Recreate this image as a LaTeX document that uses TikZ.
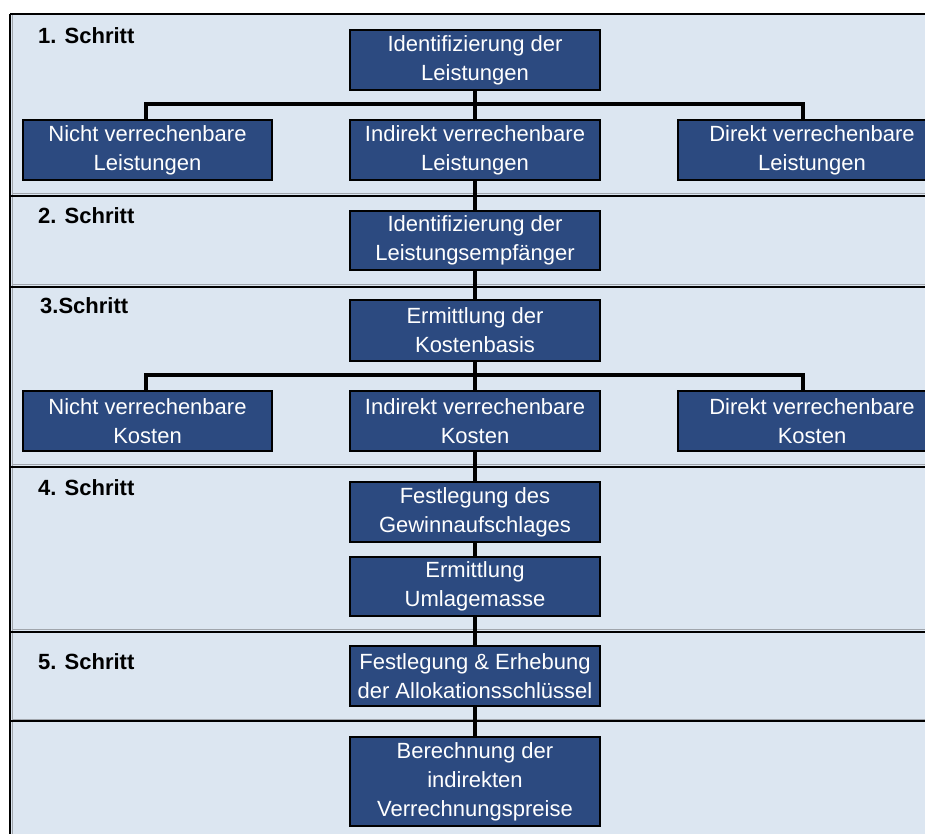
\documentclass[tikz,border=0pt]{standalone}
\usepackage{fontspec}
\setmainfont{Liberation Sans}
\definecolor{panelbg}{RGB}{220,230,241}
\definecolor{boxblue}{RGB}{44,74,128}
\definecolor{sepgray}{RGB}{160,165,172}
\tikzset{
  stepbox/.style={draw=black, line width=2pt, fill=boxblue, text=white,
    align=center, inner sep=1pt, minimum height=60pt,
    font=\fontsize{22}{29}\selectfont},
  cbox/.style={stepbox, minimum width=250pt},
  sbox/.style={stepbox, minimum width=249pt},
  rbox/.style={stepbox, minimum width=268pt},
  conn/.style={line width=3.5pt, black},
  sepline/.style={line width=2.5pt, black},
  sepshade/.style={line width=1pt, sepgray},
  steplabel/.style={anchor=base west, inner sep=0pt, font=\fontsize{22}{26}\selectfont\bfseries}
}
\begin{document}
\begin{tikzpicture}[x=1pt,y=-1pt]
\useasboundingbox (0,0) rectangle (925,833);
\clip (0,0) rectangle (925,833);
\fill[white] (0,0) rectangle (925,833);
\fill[panelbg] (10,14) rectangle (930,840);
% shading lines
\foreach \yy in {193,284,464,629,719} { \draw[sepshade] (12,\yy) -- (930,\yy); }
\draw[sepshade] (12.5,14) -- (12.5,840);
% separators
\draw[sepline] (10,14) -- (930,14);
\foreach \yy in {196,287,467,632,721} { \draw[sepline] (10,\yy) -- (930,\yy); }
\draw[sepline] (10,14) -- (10,840);

% step labels
\node[steplabel] (s1) at (38,43) {1. Schritt};
\node[steplabel] (s2) at (38,223) {2. Schritt};
\node[steplabel] (s3) at (40,313) {3.Schritt};
\node[steplabel] (s4) at (38,495) {4. Schritt};
\node[steplabel] (s5) at (38,669) {5. Schritt};

% boxes
\node[cbox] (b1) at (475,60) {Identifizierung der\\Leistungen};
\node[sbox] (l1) at (147.5,150) {Nicht verrechenbare\\Leistungen};
\node[cbox] (m1) at (475,150) {Indirekt verrechenbare\\Leistungen};
\node[rbox] (r1) at (812,150) {Direkt verrechenbare\\Leistungen};
\node[cbox, minimum height=59pt] (b2) at (475,240.5) {Identifizierung der\\Leistungsempfänger};
\node[cbox, minimum height=61pt] (b3) at (475,330.5) {Ermittlung der\\Kostenbasis};
\node[sbox] (l2) at (147.5,421) {Nicht verrechenbare\\Kosten};
\node[cbox] (m2) at (475,421) {Indirekt verrechenbare\\Kosten};
\node[rbox] (r2) at (812,421) {Direkt verrechenbare\\Kosten};
\node[cbox] (b4) at (475,512) {Festlegung des\\Gewinnaufschlages};
\node[cbox, minimum height=59pt] (b5) at (475,586.5) {Ermittlung\\Umlagemasse};
\node[cbox] (b6) at (475,676) {Festlegung \& Erhebung\\der Allokationsschlüssel};
\node[cbox, minimum height=89pt] (b7) at (475,781.5) {Berechnung der\\indirekten\\Verrechnungspreise};

% bracket junctions
\coordinate (jl1) at (146,104);
\coordinate (jr1) at (803,104);
\coordinate (jl2) at (146,375);
\coordinate (jr2) at (803,375);

% connectors
\begin{scope}[on background layer/.style={}]
\draw[conn] (b1.south) -- (m1.north);
\draw[conn] (l1.north -| jl1) -- (jl1) -- (jr1) -- (r1.north -| jr1);
\draw[conn] (m1.south) -- (b2.north);
\draw[conn] (b2.south) -- (b3.north);
\draw[conn] (b3.south) -- (m2.north);
\draw[conn] (l2.north -| jl2) -- (jl2) -- (jr2) -- (r2.north -| jr2);
\draw[conn] (m2.south) -- (b4.north);
\draw[conn] (b4.south) -- (b5.north);
\draw[conn] (b5.south) -- (b6.north);
\draw[conn] (b6.south) -- (b7.north);
\end{scope}
\end{tikzpicture}
\end{document}
